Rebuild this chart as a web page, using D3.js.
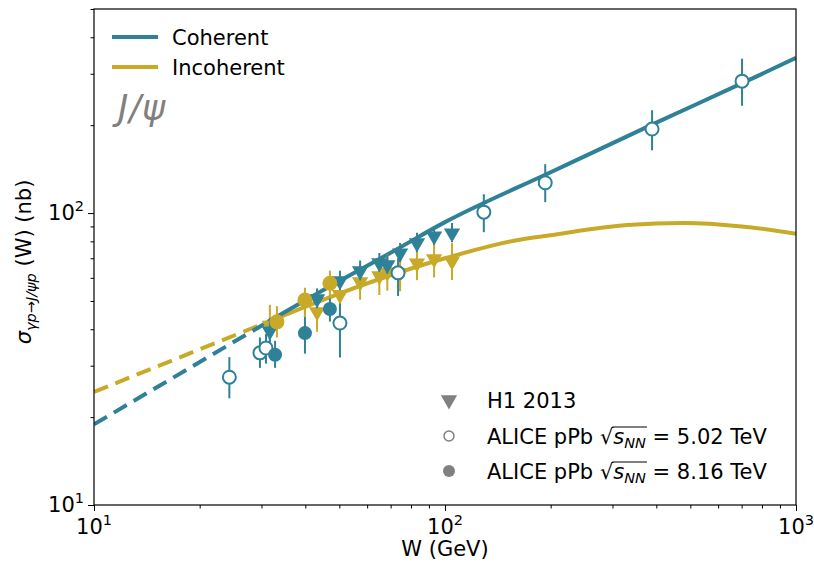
<!DOCTYPE html>
<html><head><meta charset="utf-8">
<script src="https://cdn.jsdelivr.net/npm/d3@7"></script>
<style>body{margin:0;background:#fff}svg{display:block;font-family:"DejaVu Sans",sans-serif}text{white-space:pre}</style>
</head><body><svg id="c" width="814" height="564"></svg>
<script>
// ---- data ----
const coherentW = [10, 31.3, 50, 70, 100, 200, 400, 700, 1000];
const coherentS = [18.9, 42.4, 58.5, 73.1, 93.1, 138, 204, 278, 340];
const incoherentW = [10, 31.3, 50, 100, 160, 200, 330, 480, 700, 1000];
const incoherentS = [24.4, 42.4, 53, 70, 80.7, 84, 91, 92.5, 90, 85];
const dashedUntilW = 31.3;

const h1W = [31.7, 43.2, 50.2, 57.3, 65.0, 68.5, 74.5, 83.2, 93.1, 104.7];
const h1CohS = [39.7, 51.2, 59.0, 63.8, 68.0, 67.0, 73.5, 79.6, 84.0, 86.0];
const h1CohErr = [4, 4, 4.5, 5, 5, 5, 5.5, 6, 6, 6.5];
const h1IncS = [41.5, 46.2, 52.9, 58.5, 61.4, 63.2, 63.0, 67.9, 70.2, 69.0];
const h1IncErr = [7, 7, 8, 8, 9, 9, 9, 9, 10, 10];

const alice502W = [24.3, 29.7, 30.9, 50.2, 73.5, 129, 193, 389, 702];
const alice502S = [27.4, 33.2, 34.5, 42.0, 62.4, 100.7, 127, 194, 283];
const alice502Lo = [23.2, 29.5, 30.5, 32.0, 52.0, 86.0, 109, 164, 233];
const alice502Hi = [32.1, 37.5, 38.5, 49.0, 70.0, 116, 147, 225, 338];

const alice816CohW = [32.8, 39.9, 47.0];
const alice816CohS = [32.7, 38.8, 46.9];
const alice816CohLo = [29.5, 33.0, 42.5];
const alice816CohHi = [36.5, 47.0, 51.0];
const alice816IncW = [33.2, 39.9, 47.0];
const alice816IncS = [42.4, 50.4, 57.5];
const alice816IncLo = [37.5, 44.0, 52.0];
const alice816IncHi = [48.0, 55.5, 63.5];

const xTicks = [10, 100, 1000];
const yTicks = [10, 100];
const xTickExp = ["1", "2", "3"];
const yTickExp = ["1", "2"];

// ---- setup ----
const teal = "#2f8197", gold = "#c8aa28", grey = "#808080";
const svg = d3.select("#c");
const L = 94, R = 796, T = 9, B = 505;
const x = d3.scaleLog().domain([10, 1000]).range([L, R]);
const y = d3.scaleLog().domain([10, 500]).range([B, T]);
svg.append("clipPath").attr("id", "pc").append("rect")
  .attr("x", L).attr("y", T).attr("width", R - L).attr("height", B - T);
const plot = svg.append("g").attr("clip-path", "url(#pc)");

// curves
function drawCurve(W, S, color) {
  const pts = W.map((w, i) => [w, S[i]]);
  const dashed = pts.filter(p => p[0] <= dashedUntilW);
  const solid = pts.filter(p => p[0] >= dashedUntilW);
  const line = d3.line().x(p => x(p[0])).y(p => y(p[1]));
  plot.append("path").attr("d", line(dashed)).attr("fill", "none")
    .attr("stroke", color).attr("stroke-width", 4).attr("stroke-dasharray", "15,8");
  plot.append("path").attr("d", line.curve(d3.curveMonotoneX)(solid)).attr("fill", "none")
    .attr("stroke", color).attr("stroke-width", 4).attr("stroke-linejoin", "round");
}
drawCurve(incoherentW, incoherentS, gold);
drawCurve(coherentW, coherentS, teal);

const tri = d3.symbol().type(d3.symbolTriangle).size(115);
function errbars(W, lo, hi, color) {
  plot.append("g").selectAll("line").data(W).join("line")
    .attr("x1", d => x(d)).attr("x2", d => x(d))
    .attr("y1", (d, i) => y(lo[i])).attr("y2", (d, i) => y(hi[i]))
    .attr("stroke", color).attr("stroke-width", 2);
}
function triangles(W, S, color) {
  plot.append("g").selectAll("path").data(W).join("path")
    .attr("d", tri)
    .attr("transform", (d, i) => `translate(${x(d)},${y(S[i]) + 1}) rotate(180)`)
    .attr("fill", color);
}
// H1 incoherent & coherent
errbars(h1W, h1IncS.map((s, i) => s - h1IncErr[i]), h1IncS.map((s, i) => s + h1IncErr[i]), gold);
triangles(h1W, h1IncS, gold);
errbars(h1W, h1CohS.map((s, i) => s - h1CohErr[i]), h1CohS.map((s, i) => s + h1CohErr[i]), teal);
triangles(h1W, h1CohS, teal);

// ALICE 5.02 open
errbars(alice502W, alice502Lo, alice502Hi, teal);
plot.append("g").selectAll("circle").data(alice502W).join("circle")
  .attr("cx", d => x(d)).attr("cy", (d, i) => y(alice502S[i])).attr("r", 6.5)
  .attr("fill", "#fff").attr("stroke", teal).attr("stroke-width", 2);
// ALICE 8.16 filled
errbars(alice816CohW, alice816CohLo, alice816CohHi, teal);
plot.append("g").selectAll("circle").data(alice816CohW).join("circle")
  .attr("cx", d => x(d)).attr("cy", (d, i) => y(alice816CohS[i])).attr("r", 7)
  .attr("fill", teal);
errbars(alice816IncW, alice816IncLo, alice816IncHi, gold);
plot.append("g").selectAll("circle").data(alice816IncW).join("circle")
  .attr("cx", d => x(d)).attr("cy", (d, i) => y(alice816IncS[i])).attr("r", 7.5)
  .attr("fill", gold);

// ---- axes ----
const fs = 21;
const xMinor = [];
for (let d = 10; d < 1000; d *= 10) for (let k = 2; k <= 9; k++) xMinor.push(d * k);
const yMinor = [];
for (let d = 10; d < 500; d *= 10) for (let k = 2; k <= 9; k++) if (d * k <= 500) yMinor.push(d * k);

const xAxis = d3.axisBottom(x).tickValues(xTicks).tickSize(6).tickFormat("");
const xAxisMinor = d3.axisBottom(x).tickValues(xMinor).tickSize(3.5).tickFormat("");
const yAxis = d3.axisLeft(y).tickValues(yTicks).tickSize(6).tickFormat("");
const yAxisMinor = d3.axisLeft(y).tickValues(yMinor).tickSize(3.5).tickFormat("");
[[xAxis, `translate(0,${B})`], [xAxisMinor, `translate(0,${B})`], [yAxis, `translate(${L},0)`], [yAxisMinor, `translate(${L},0)`]]
  .forEach(([a, t]) => {
    const gg = svg.append("g").attr("transform", t).call(a);
    gg.select(".domain").remove();
    gg.selectAll("line").attr("stroke", "#000").attr("stroke-width", 1);
  });
svg.append("rect").attr("x", L).attr("y", T).attr("width", R - L).attr("height", B - T)
  .attr("fill", "none").attr("stroke", "#000").attr("stroke-width", 1.2);

// tick labels
xTicks.forEach((v, i) => {
  const t = svg.append("text").attr("x", x(v)).attr("y", B + 29).attr("text-anchor", "middle")
    .attr("font-size", fs);
  t.append("tspan").text("10");
  t.append("tspan").text(xTickExp[i]).attr("font-size", 14.5).attr("dy", -9);
});
yTicks.forEach((v, i) => {
  const t = svg.append("text").attr("x", L - 10).attr("y", y(v) + 7).attr("text-anchor", "end")
    .attr("font-size", fs);
  t.append("tspan").text("10");
  t.append("tspan").text(yTickExp[i]).attr("font-size", 14.5).attr("dy", -9);
});

// axis labels
svg.append("text").attr("x", (L + R) / 2).attr("y", 556).attr("text-anchor", "middle")
  .attr("font-size", fs).text("W (GeV)");
const yl = svg.append("text").attr("transform", `translate(31,262) rotate(-90)`)
  .attr("text-anchor", "middle").attr("font-size", fs);
yl.append("tspan").text("σ").attr("font-style", "italic");
yl.append("tspan").text("γp→J/ψp").attr("font-size", 14.5).attr("font-style", "italic").attr("dy", 5);
yl.append("tspan").text(" (W) (nb)").attr("dy", -5);

// top-left legend
const legTop = [["Coherent", teal, 37], ["Incoherent", gold, 67]];
legTop.forEach(([lab, c, yy]) => {
  svg.append("line").attr("x1", 112).attr("x2", 158).attr("y1", yy).attr("y2", yy)
    .attr("stroke", c).attr("stroke-width", 4);
  svg.append("text").attr("x", 172).attr("y", yy + 7.5).attr("font-size", fs).text(lab);
});
svg.append("text").attr("x", 118).attr("y", 120).attr("font-size", 35).attr("letter-spacing", 1)
  .attr("font-style", "italic").attr("fill", grey).text("J/ψ");

// bottom-right legend
const lx = 449, tx = 487;
svg.append("path").attr("d", tri).attr("transform", `translate(${lx},400) rotate(180)`).attr("fill", grey);
svg.append("circle").attr("cx", lx).attr("cy", 436).attr("r", 5).attr("fill", "#fff")
  .attr("stroke", grey).attr("stroke-width", 1.5);
svg.append("circle").attr("cx", lx).attr("cy", 471).attr("r", 6).attr("fill", grey);
svg.append("text").attr("x", tx).attr("y", 408).attr("font-size", fs).text("H1 2013");

function aliceLabel(yy, energy) {
  let cx = tx;
  const seg = (txt, opts = {}) => {
    const t = svg.append("text").attr("x", cx).attr("y", yy + (opts.dy || 0))
      .attr("font-size", opts.size || fs).attr("font-style", opts.italic ? "italic" : null).text(txt);
    const w = t.node().getComputedTextLength();
    const s = cx; cx += w; return [s, cx];
  };
  seg("ALICE pPb ");
  const [, sq1] = seg("√");
  seg("s", { italic: true });
  const [, n1] = seg("NN", { italic: true, size: 14.5, dy: 4 });
  svg.append("line").attr("x1", sq1 - 1).attr("x2", n1 + 1).attr("y1", yy - 17).attr("y2", yy - 17)
    .attr("stroke", "#000").attr("stroke-width", 1.1);
  seg(" = " + energy + " TeV");
}
aliceLabel(444, "5.02");
aliceLabel(479, "8.16");
</script></body></html>
